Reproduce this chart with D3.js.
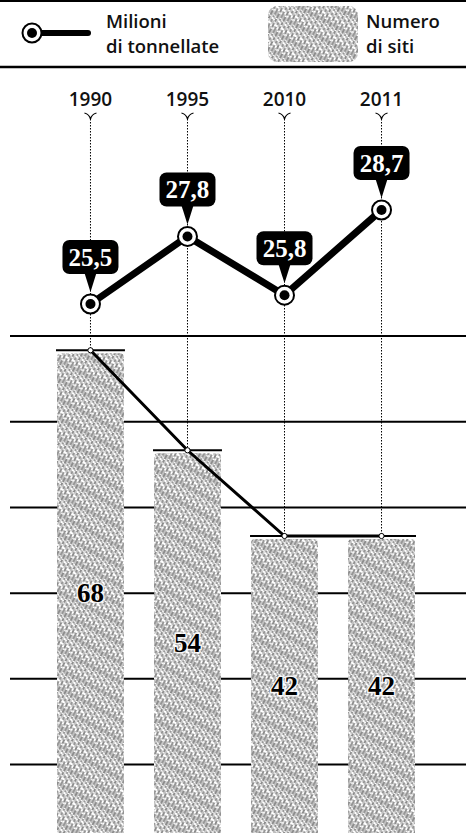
<!DOCTYPE html>
<html>
<head>
<meta charset="utf-8">
<script src="https://cdn.jsdelivr.net/npm/d3@7"></script>
<style>
  html, body { margin: 0; padding: 0; background: #fff; }
  svg { display: block; }
  .sans { font-family: 'Open Sans', 'DejaVu Sans', sans-serif; font-weight: 600; fill: #111; }
  .serif { font-family: 'Liberation Serif', 'DejaVu Serif', serif; }
</style>
</head>
<body>
<div id="chart"></div>
<script>
  const YEARS = ['1990', '1995', '2010', '2011'];
  const TONNES = [25.5, 27.8, 25.8, 28.7];
  const SITES = [68, 54, 42, 42];
  const GRID_VALUES = [10, 22, 34, 46, 58, 70];
  const LEGEND_LINE = ['Milioni', 'di tonnellate'];
  const LEGEND_BARS = ['Numero', 'di siti'];

  const W = 466, H = 833;
  const it = d3.formatLocale({ decimal: ',', thousands: '.', grouping: [3], currency: ['', '€'] });
  const fmt = it.format('.1f');

  const svg = d3.select('#chart').append('svg')
    .attr('width', W)
    .attr('height', H);

  // hatch pattern (scribbled diagonal strokes)
  const defs = svg.append('defs');
  const pat = defs.append('pattern')
    .attr('id', 'hatch')
    .attr('patternUnits', 'userSpaceOnUse')
    .attr('width', 7.2).attr('height', 17)
    .attr('patternTransform', 'rotate(28)');
  pat.append('rect').attr('width', 7.2).attr('height', 17).attr('fill', '#fff');
  [
    { x: 0.9, c: '#333', w: 1, dash: '5,1,3,1.5,5,1.5', off: 0 },
    { x: 2.7, c: '#888', w: 0.9, dash: '2,1.5,6,1,4,2.5', off: 4 },
    { x: 4.5, c: '#444', w: 1, dash: '3,2,7,1,2,2', off: 9 },
    { x: 6.3, c: '#777', w: 0.9, dash: '6,1,2,1.5,4,2.5', off: 2 },
  ].forEach(l => {
    pat.append('line').attr('x1', l.x).attr('x2', l.x).attr('y1', 0).attr('y2', 17)
      .attr('stroke', l.c).attr('stroke-width', l.w)
      .attr('stroke-dasharray', l.dash).attr('stroke-dashoffset', l.off);
  });

  const x = d3.scaleBand()
    .domain(YEARS)
    .range([57, 415])
    .paddingInner(0.31)
    .paddingOuter(0);
  const cx = d => x(d) + x.bandwidth() / 2;

  const yLine = d3.scaleLinear().domain([25.5, 28.7]).range([304, 210]);
  const ySites = d3.scaleLinear().domain([0, 70]).range([836, 336]);

  const rows = YEARS.map((y, i) => ({ year: y, tonnes: TONNES[i], sites: SITES[i] }));

  // ─── Legend ───────────────────────────────────────────────
  svg.append('line').attr('x1', 0).attr('x2', W).attr('y1', 1).attr('y2', 1)
    .attr('stroke', '#000').attr('stroke-width', 2);
  svg.append('line').attr('x1', 0).attr('x2', W).attr('y1', 67).attr('y2', 67)
    .attr('stroke', '#000').attr('stroke-width', 2.5);

  svg.append('line').attr('x1', 32).attr('x2', 88).attr('y1', 33).attr('y2', 33)
    .attr('stroke', '#000').attr('stroke-width', 6).attr('stroke-linecap', 'round');
  svg.append('circle').attr('cx', 32).attr('cy', 33).attr('r', 9.5)
    .attr('fill', '#fff').attr('stroke', '#000').attr('stroke-width', 2);
  svg.append('circle').attr('cx', 32).attr('cy', 33).attr('r', 5).attr('fill', '#000');
  LEGEND_LINE.forEach((t, i) => {
    svg.append('text').attr('class', 'sans').attr('x', 106).attr('y', 28 + i * 25)
      .style('font-size', '18.5px').text(t);
  });

  svg.append('rect').attr('x', 268).attr('y', 6).attr('width', 90).attr('height', 56)
    .attr('rx', 9).attr('fill', 'url(#hatch)');
  LEGEND_BARS.forEach((t, i) => {
    svg.append('text').attr('class', 'sans').attr('x', 366).attr('y', 28 + i * 25)
      .style('font-size', '18.5px').text(t);
  });

  // ─── Grid lines ───────────────────────────────────────────
  svg.append('g').selectAll('line')
    .data(GRID_VALUES)
    .enter().append('line')
    .attr('x1', 10).attr('x2', W)
    .attr('y1', d => ySites(d)).attr('y2', d => ySites(d))
    .attr('stroke', '#000').attr('stroke-width', 2);

  // ─── Year labels, ticks, dotted guides ────────────────────
  const yearG = svg.append('g');
  yearG.selectAll('text')
    .data(rows).enter().append('text')
    .attr('class', 'sans')
    .attr('x', d => cx(d.year)).attr('y', 106)
    .attr('text-anchor', 'middle')
    .style('font-size', '19px')
    .text(d => d.year);
  yearG.selectAll('path')
    .data(rows).enter().append('path')
    .attr('d', d => {
      const c = cx(d.year);
      return `M${c - 6},113 Q${c - 1},114.5 ${c},119 Q${c + 1},114.5 ${c + 6},113`;
    })
    .attr('fill', 'none').attr('stroke', '#000').attr('stroke-width', 1.2);
  yearG.selectAll('line')
    .data(rows).enter().append('line')
    .attr('x1', d => cx(d.year)).attr('x2', d => cx(d.year))
    .attr('y1', 119).attr('y2', d => ySites(d.sites))
    .attr('stroke', '#000').attr('stroke-width', 1).attr('stroke-dasharray', '1.5,1.5');

  // ─── Bars ─────────────────────────────────────────────────
  const barG = svg.append('g');
  barG.selectAll('rect')
    .data(rows).enter().append('rect')
    .attr('x', d => x(d.year))
    .attr('y', d => ySites(d.sites) + 3)
    .attr('width', x.bandwidth())
    .attr('height', d => ySites(0) - ySites(d.sites) + 10)
    .attr('rx', 4)
    .attr('fill', 'url(#hatch)');
  barG.selectAll('line')
    .data(rows).enter().append('line')
    .attr('x1', d => x(d.year) - 1).attr('x2', d => x(d.year) + x.bandwidth() + 1)
    .attr('y1', d => ySites(d.sites)).attr('y2', d => ySites(d.sites))
    .attr('stroke', '#000').attr('stroke-width', 2);

  svg.append('path')
    .datum(rows)
    .attr('d', d3.line().x(d => cx(d.year)).y(d => ySites(d.sites)))
    .attr('fill', 'none').attr('stroke', '#000').attr('stroke-width', 3);
  svg.append('g').selectAll('circle')
    .data(rows).enter().append('circle')
    .attr('cx', d => cx(d.year)).attr('cy', d => ySites(d.sites))
    .attr('r', 2.6).attr('fill', '#fff').attr('stroke', '#000').attr('stroke-width', 1);

  svg.append('g').selectAll('text')
    .data(rows).enter().append('text')
    .attr('class', 'serif')
    .attr('x', d => cx(d.year))
    .attr('y', d => (ySites(d.sites) + ySites(0)) / 2 + 9)
    .attr('text-anchor', 'middle')
    .style('font-size', '27px').style('font-weight', 'bold')
    .style('paint-order', 'stroke').attr('stroke', 'rgba(255,255,255,0.85)').attr('stroke-width', 3)
    .attr('fill', '#000')
    .text(d => d.sites);

  // ─── Tonnes line ──────────────────────────────────────────
  svg.append('path')
    .datum(rows)
    .attr('d', d3.line().x(d => cx(d.year)).y(d => yLine(d.tonnes)))
    .attr('fill', 'none').attr('stroke', '#000').attr('stroke-width', 7)
    .attr('stroke-linejoin', 'miter');

  const pts = svg.append('g').selectAll('g')
    .data(rows).enter().append('g')
    .attr('transform', d => `translate(${cx(d.year)},${yLine(d.tonnes)})`);
  pts.append('circle').attr('r', 9.5)
    .attr('fill', '#fff').attr('stroke', '#000').attr('stroke-width', 2);
  pts.append('circle').attr('r', 5).attr('fill', '#000');

  // callouts
  pts.append('path')
    .attr('d', 'M-6,-31 L0,-12 L6,-31 Z')
    .attr('fill', '#000');
  pts.append('rect')
    .attr('x', -28).attr('y', -64).attr('width', 56).attr('height', 34)
    .attr('rx', 7).attr('fill', '#000');
  pts.append('text')
    .attr('class', 'serif')
    .attr('x', 0).attr('y', -38)
    .attr('text-anchor', 'middle')
    .style('font-size', '25px')
    .style('font-weight', 'bold')
    .attr('fill', '#fff')
    .text(d => fmt(d.tonnes));
</script>
</body>
</html>
